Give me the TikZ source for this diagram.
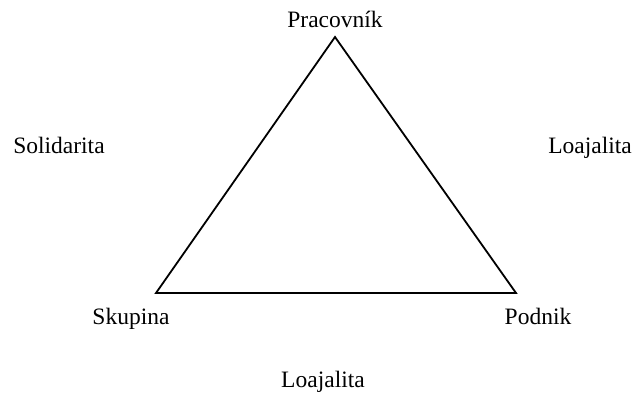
\documentclass[tikz,border=0pt]{standalone}
\usepackage{fontspec}
\setmainfont{Liberation Serif}
\begin{document}
\begin{tikzpicture}[x=1pt,y=-1pt,
  lbl/.style={anchor=base,inner sep=0pt,font=\fontsize{23.5}{28}\selectfont},
  edge/.style={line width=1.8pt,line join=miter}]
\useasboundingbox (0,0) rectangle (636,392);
\coordinate (A) at (335,37);
\coordinate (B) at (156,293);
\coordinate (C) at (516,293);
\draw[edge] (A) -- (B) -- (C) -- cycle;
\node[lbl] (prac) at (335,27) {Pracovník};
\node[lbl] (sol) at (59,153) {Solidarita};
\node[lbl] (loaR) at (590,153) {Loajalita};
\node[lbl] (sku) at (131,324) {Skupina};
\node[lbl] (pod) at (538,324) {Podnik};
\node[lbl] (loaB) at (323,387) {Loajalita};
\end{tikzpicture}
\end{document}
